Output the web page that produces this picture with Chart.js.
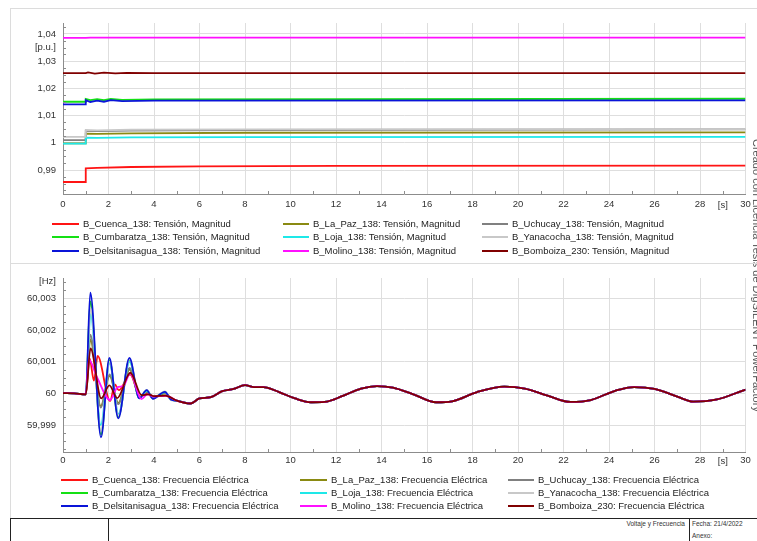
<!DOCTYPE html>
<html>
<head>
<meta charset="utf-8">
<script src="https://cdn.jsdelivr.net/npm/chart.js@4/dist/chart.umd.min.js"></script>
<style>
body{margin:0;background:#fff;width:757px;height:541px;overflow:hidden;position:relative;font-family:"Liberation Sans",Arial,sans-serif;}
canvas{position:absolute;left:0;}
#cvVolt{top:0;}
#cvFreq{top:265px;}
.ln{position:absolute;}
.leg{position:absolute;font-size:9.5px;color:#222;white-space:nowrap;line-height:12px;}
.leg b{position:absolute;height:2px;top:5px;}
.leg span{position:absolute;top:0;}
.foot{position:absolute;font-size:6.5px;color:#333;white-space:nowrap;}
#side{position:absolute;left:763px;top:139px;transform-origin:0 0;transform:rotate(90deg);font-size:11px;color:#555;white-space:nowrap;}
</style>
</head>
<body>
<canvas id="cvVolt" width="757" height="215"></canvas>
<canvas id="cvFreq" width="757" height="210"></canvas>
<div id="side">Creado con Licencia Tesis de DIgSILENT PowerFactory</div>
<script>
// --- Data ---
const buses = ['B_Cuenca_138','B_La_Paz_138','B_Uchucay_138',
               'B_Cumbaratza_138','B_Loja_138','B_Yanacocha_138',
               'B_Delsitanisagua_138','B_Molino_138','B_Bomboiza_230'];
const timeTicks = [0,2,4,6,8,10,12,14,16,18,20,22,24,26,28,30];
const puTicks = [0.99,1,1.01,1.02,1.03,1.04];
const puLabels = ['0,99','1','1,01','1,02','1,03','1,04'];
const hzTicks = [59.999,60,60.001,60.002,60.003];
const hzLabels = ['59,999','60','60,001','60,002','60,003'];

// voltage magnitude [t s, u p.u.]
const vCuenca = [[0,0.9856],[1,0.9856],[1,0.9906],[1.5,0.9908],[3,0.9911],[6,0.9913],[12,0.9915],[30,0.9916]];
const vLaPaz = [[0,0.9998],[1,0.9998],[1,1.0034],[1.5,1.0033],[3,1.0035],[8,1.0037],[30,1.0038]];
const vUchucay = [[0,1.0010],[1,1.0010],[1,1.0044],[1.5,1.0043],[3,1.0045],[8,1.0047],[30,1.0049]];
const vCumbaratza = [[0,1.0151],[1,1.0151],[1,1.0161],[1.2,1.0157],[1.5,1.0160],[1.8,1.0157],[2.1,1.0161],[2.6,1.0158],[4,1.0160],[30,1.0162]];
const vLoja = [[0,0.9997],[1,0.9997],[1,1.0019],[1.5,1.0018],[3,1.0020],[8,1.0021],[30,1.0022]];
const vYanacocha = [[0,1.0022],[1,1.0022],[1,1.0047],[1.5,1.0046],[3,1.0048],[8,1.0049],[30,1.0050]];
const vDelsitanisagua = [[0,1.0141],[1,1.0141],[1,1.0157],[1.2,1.0150],[1.5,1.0155],[1.8,1.0151],[2.1,1.0157],[2.6,1.0153],[4,1.0155],[30,1.0156]];
const vMolino = [[0,1.0386],[1,1.0386],[1.2,1.0387],[30,1.0387]];
const vBomboiza = [[0,1.0256],[1,1.0256],[1.1,1.0259],[1.4,1.0254],[1.8,1.0258],[2.3,1.0255],[2.8,1.0257],[4,1.0256],[30,1.0256]];

// electrical frequency [t s, f Hz]
const fPre = [[0,60.00001],[0.5,60.0],[1.0,59.99997]];
const fCuenca = [[1.17,60.0011],[1.36,60.0004],[1.52,60.00118],[2.07,59.99976],[2.28,60.00028],[2.45,60.0001],[2.95,60.0006],[3.4,59.99988],[3.7,60.00002],[4.0,59.9999],[4.5,59.99993]];
const fLaPaz = [[1.2,60.0017],[1.66,59.9996],[2.05,60.00055],[2.43,59.9997],[2.93,60.00075],[3.37,59.99988],[3.7,60.00005],[3.98,59.99988],[4.5,60.0],[4.75,59.99983]];
const fUchucay = [[1.2,60.00185],[1.66,59.99955],[2.05,60.0006],[2.43,59.99966],[2.93,60.0008],[3.36,59.99987],[3.7,60.00006],[3.97,59.99987],[4.48,60.00002],[4.75,59.99982]];
const fCumbaratza = [[1.2,60.0029],[1.67,59.9987],[2.04,60.00105],[2.43,59.99926],[2.92,60.00106],[3.35,59.99985],[3.68,60.00009],[3.95,59.99984],[4.48,60.00004],[4.75,59.9998]];
const fLoja = [[1.21,60.0025],[1.66,59.9990],[2.05,60.00095],[2.44,59.99935],[2.93,60.001],[3.36,59.99986],[3.69,60.00008],[3.96,59.99985],[4.48,60.00004],[4.75,59.9998]];
const fYanacocha = [[1.21,60.0027],[1.66,59.9988],[2.05,60.001],[2.44,59.9993],[2.93,60.00108],[3.36,59.99984],[3.69,60.00011],[3.96,59.99983],[4.48,60.00006],[4.75,59.99979]];
const fDelsitanisagua = [[1.2,60.00318],[1.67,59.99861],[2.04,60.00112],[2.43,59.99921],[2.92,60.00112],[3.35,59.99984],[3.68,60.0001],[3.95,59.99983],[4.48,60.00005],[4.75,59.9998]];
const fMolino = [[1.14,60.00106],[1.5,60.0005],[2.07,59.99979],[2.4,60.0002],[2.65,60.00023],[2.95,60.00062],[3.45,59.99982],[3.7,59.99997],[4.0,59.9999],[4.5,59.99993]];
const fBomboiza = [[1.21,60.00142],[1.68,59.99984],[2.04,60.00025],[2.38,59.99985],[2.96,60.00065],[3.46,59.99994],[3.75,59.99997],[4.0,59.99991],[4.5,59.99993]];
const fPost = [[5.0,59.99977],[5.6,59.99968],[6.0,59.99984],[6.5,59.99988],[7.0,60.00007],[7.5,60.00014],[8.0,60.00026],[8.4,60.0002],[8.8,60.0002],
  [9.5,60.00004],[10.2,59.99984],[10.9,59.99972],[11.5,59.99973],[12.3,59.99992],[13.1,60.00015],[13.8,60.00023],[14.5,60.00018],[15.4,59.99997],
  [16.4,59.99972],[17.1,59.99975],[18.2,60.00004],[19.4,60.00021],[20.3,60.00015],[21.3,59.99993],[22.3,59.99973],[23.2,59.99979],[24.3,60.00009],
  [25.1,60.0002],[26.0,60.00014],[27.0,59.9999],[27.7,59.99974],[28.7,59.9998],[30,60.00012]];

const voltSeries = [vCuenca,vLaPaz,vUchucay,vCumbaratza,vLoja,vYanacocha,vDelsitanisagua,vMolino,vBomboiza];
const freqSeries = [fCuenca,fLaPaz,fUchucay,fCumbaratza,fLoja,fYanacocha,fDelsitanisagua,fMolino,fBomboiza];

// --- Styles ---
const colors = ['#ff1414','#8a8a12','#808080','#14e014','#1ee8e8','#c8c8c8','#0a14d8','#ff10ff','#800000'];
const GRID = '#dedede', AXIS = '#8c8c8c', TXT = '#333';
Chart.defaults.font.family = '"Liberation Sans", Arial, sans-serif';
Chart.defaults.font.size = 9.5;

// --- Frame lines ---
function hline(x,y,w,c){ addLine(x,y,w,1,c); }
function vline(x,y,h,c){ addLine(x,y,1,h,c); }
function addLine(x,y,w,h,c){
  const d=document.createElement('div'); d.className='ln';
  d.style.cssText=`left:${x}px;top:${y}px;width:${w}px;height:${h}px;background:${c}`;
  document.body.appendChild(d);
}
hline(10,8,747,'#dcdcdc');
vline(10,8,510,'#dcdcdc');
hline(10,263,747,'#dcdcdc');
hline(10,518,747,'#222');
vline(10,518,23,'#222');
vline(108,518,23,'#222');
vline(689,518,23,'#222');
function footText(txt,x,y,right){
  const d=document.createElement('div'); d.className='foot'; d.textContent=txt;
  d.style.top=y+'px';
  if(right) d.style.right=(757-x)+'px'; else d.style.left=x+'px';
  document.body.appendChild(d);
}
footText('Voltaje y Frecuencia',685,520,true);
footText('Fecha: 21/4/2022',692,520);
footText('Anexo:',692,532);

// --- Legends ---
function buildLegend(suffix, cols, rows){
  buses.forEach((b,i)=>{
    const c=cols[i%3], y=rows[Math.floor(i/3)];
    const d=document.createElement('div'); d.className='leg';
    d.style.left=c[0]+'px'; d.style.top=(y-6)+'px';
    d.innerHTML=`<b style="left:0;width:${c[1]-c[0]-4}px;background:${colors[i]}"></b><span style="left:${c[1]-c[0]}px">${b}: ${suffix}</span>`;
    document.body.appendChild(d);
  });
}
buildLegend('Tensión, Magnitud', [[52,83],[283,313],[482,512]], [224,237,250.5]);
buildLegend('Frecuencia Eléctrica', [[61,92],[300,331],[508,538]], [480,492.5,505.5]);

// --- Chart helpers ---
function unitsPlugin(cfg){
  return {
    id:'units',
    afterDraw(chart){
      const {ctx, chartArea:a, scales:{x,y}} = chart;
      ctx.save();
      // minor ticks, drawn inside the plot
      ctx.strokeStyle=AXIS; ctx.lineWidth=1; ctx.beginPath();
      for(let t=1;t<30;t+=2){
        const px=Math.round(x.getPixelForValue(t))+0.5;
        ctx.moveTo(px,a.bottom); ctx.lineTo(px,a.bottom-3);
      }
      const k0=Math.ceil(y.min/cfg.minor), k1=Math.floor(y.max/cfg.minor);
      for(let k=k0;k<=k1;k++){
        if(k%4===0) continue;
        const py=Math.round(y.getPixelForValue(k*cfg.minor))+0.5;
        ctx.moveTo(a.left,py); ctx.lineTo(a.left+3,py);
      }
      ctx.stroke();
      // unit labels
      ctx.fillStyle=TXT; ctx.font='9.5px "Liberation Sans", Arial, sans-serif';
      ctx.textAlign='right'; ctx.textBaseline='middle';
      ctx.fillText(cfg.yUnit, a.left-7, y.getPixelForValue(cfg.yUnitAt));
      ctx.textAlign='center';
      ctx.fillText('[s]', x.getPixelForValue(29), a.bottom+cfg.xLabelDy);
      ctx.restore();
    }
  };
}

function makeChart(id, datasets, opt){
  return new Chart(document.getElementById(id), {
    type:'line',
    data:{datasets},
    options:{
      responsive:false, animation:false,
      layout:{padding:{top:opt.top,left:0,right:11.5,bottom:0}},
      plugins:{legend:{display:false},tooltip:{enabled:false}},
      elements:{point:{radius:0}},
      scales:{
        x:{type:'linear',min:0,max:30,
          afterBuildTicks:s=>{s.ticks=timeTicks.map(v=>({value:v}));},
          afterFit:s=>{s.height=opt.xHeight;},
          grid:{color:GRID,drawTicks:false},
          border:{color:AXIS},
          ticks:{color:TXT,padding:opt.xPad,maxRotation:0,autoSkip:false}},
        y:{type:'linear',min:opt.yMin,max:opt.yMax,
          afterBuildTicks:s=>{s.ticks=opt.yTicks.map(v=>({value:v}));},
          afterFit:s=>{s.width=63;},
          grid:{color:GRID,drawTicks:false},
          border:{color:AXIS},
          ticks:{color:TXT,padding:7,callback:(v,i)=>opt.yLabels[i]}}
      }
    },
    plugins:[unitsPlugin(opt.units)]
  });
}

// --- Voltage chart ---
makeChart('cvVolt', voltSeries.map((s,i)=>({
  data:s.map(p=>({x:p[0],y:p[1]})),
  borderColor:colors[i], borderWidth:1.8, tension:0,
  order:buses.length-1-i
})), {top:23,xHeight:21,xPad:5,yMin:0.98118,yMax:1.04404,yTicks:puTicks,yLabels:puLabels,
     units:{minor:0.0025,yUnit:'[p.u.]',yUnitAt:1.0349,xLabelDy:11}});

// --- Frequency chart ---
makeChart('cvFreq', freqSeries.map((s,i)=>({
  data:fPre.concat(s,fPost).map(p=>({x:p[0],y:p[1]})),
  borderColor:colors[i], borderWidth:1.8, cubicInterpolationMode:'monotone',
  order:buses.length-1-i
})), {top:13,xHeight:23,xPad:3,yMin:59.99815,yMax:60.00364,yTicks:hzTicks,yLabels:hzLabels,
     units:{minor:0.00025,yUnit:'[Hz]',yUnitAt:60.00353,xLabelDy:9}});
</script>
</body>
</html>
